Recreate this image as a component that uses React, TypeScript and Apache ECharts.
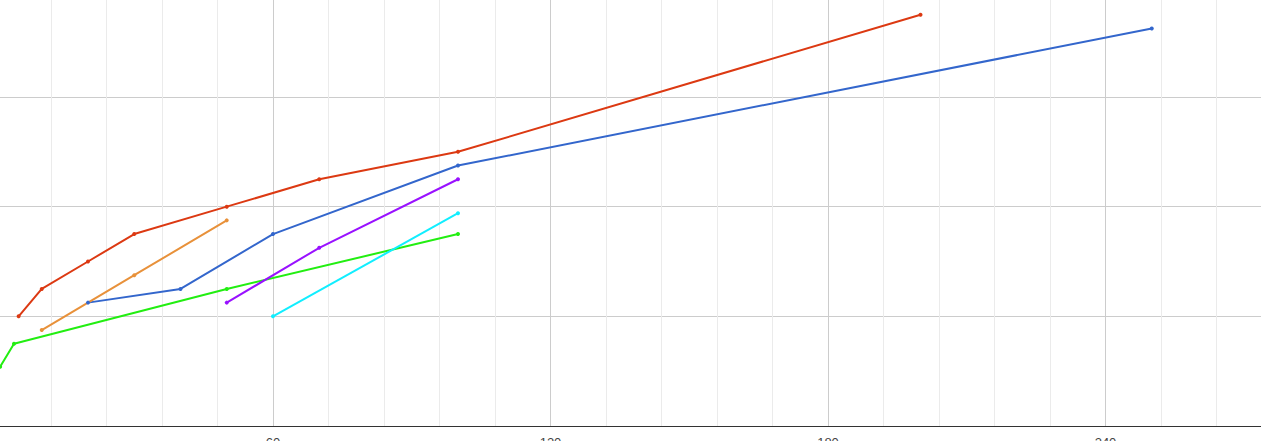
import React, { useEffect, useRef } from "react";
import * as echarts from "echarts";

// x values / y values per series
const redX = [5, 10, 20, 30, 50, 70, 100, 200];
const redY = [1, 1.25, 1.5, 1.75, 2, 2.25, 2.5, 3.75];

const blueX = [20, 40, 60, 100, 250];
const blueY = [1.125, 1.25, 1.75, 2.375, 3.625];

const orangeX = [10, 30, 50];
const orangeY = [0.875, 1.375, 1.875];

const greenX = [1, 4, 50, 100];
const greenY = [0.54, 0.75, 1.25, 1.75];

const purpleX = [50, 70, 100];
const purpleY = [1.125, 1.625, 2.25];

const cyanX = [60, 100];
const cyanY = [1, 1.94];

const seriesDefs = [
  { name: "A", xs: redX, ys: redY, color: "#dc3912" },
  { name: "B", xs: blueX, ys: blueY, color: "#3366cc" },
  { name: "C", xs: orangeX, ys: orangeY, color: "#e8913a" },
  { name: "D", xs: greenX, ys: greenY, color: "#22ee11" },
  { name: "E", xs: purpleX, ys: purpleY, color: "#9911ff" },
  { name: "F", xs: cyanX, ys: cyanY, color: "#11eeff" },
];

export default function App() {
  const ref = useRef<HTMLDivElement>(null);
  useEffect(() => {
    if (!ref.current) return;
    const chart = echarts.init(ref.current, undefined, { renderer: "svg" });
    chart.setOption({
      animation: false,
      backgroundColor: "#ffffff",
      grid: {
        left: -4.5,
        top: -12.67,
        width: 1387.5,
        bottom: 15,
        containLabel: false,
        outerBoundsMode: "none",
      },
      xAxis: {
        type: "value",
        min: 0,
        max: 300,
        interval: 60,
        axisLine: { show: true, onZero: false, lineStyle: { color: "#333333", width: 1 } },
        axisTick: { show: false },
        minorTick: { show: false, splitNumber: 5 },
        axisLabel: {
          margin: 10,
          color: "#444444",
          fontSize: 13,
          fontFamily: "Liberation Sans, Arial, sans-serif",
          showMinLabel: false,
        },
        splitLine: { show: true, lineStyle: { color: "#cccccc", width: 1 } },
        minorSplitLine: { show: true, lineStyle: { color: "#ebebeb", width: 1 } },
      },
      yAxis: {
        type: "value",
        min: 0,
        max: 4,
        interval: 1,
        axisLine: { show: false },
        axisTick: { show: false },
        axisLabel: { show: false },
        splitLine: { show: true, lineStyle: { color: "#cccccc", width: 1 } },
      },
      series: seriesDefs.map((s) => ({
        name: s.name,
        type: "line",
        data: s.xs.map((x, i) => [x, s.ys[i]]),
        symbol: "circle",
        symbolSize: 4,
        showSymbol: true,
        lineStyle: { color: s.color, width: 2 },
        itemStyle: { color: s.color },
        clip: false,
      })),
    });
    return () => chart.dispose();
  }, []);
  return (
    <div
      ref={ref}
      style={{ position: "fixed", left: 0, top: 0, width: 1261, height: 441 }}
    />
  );
}
